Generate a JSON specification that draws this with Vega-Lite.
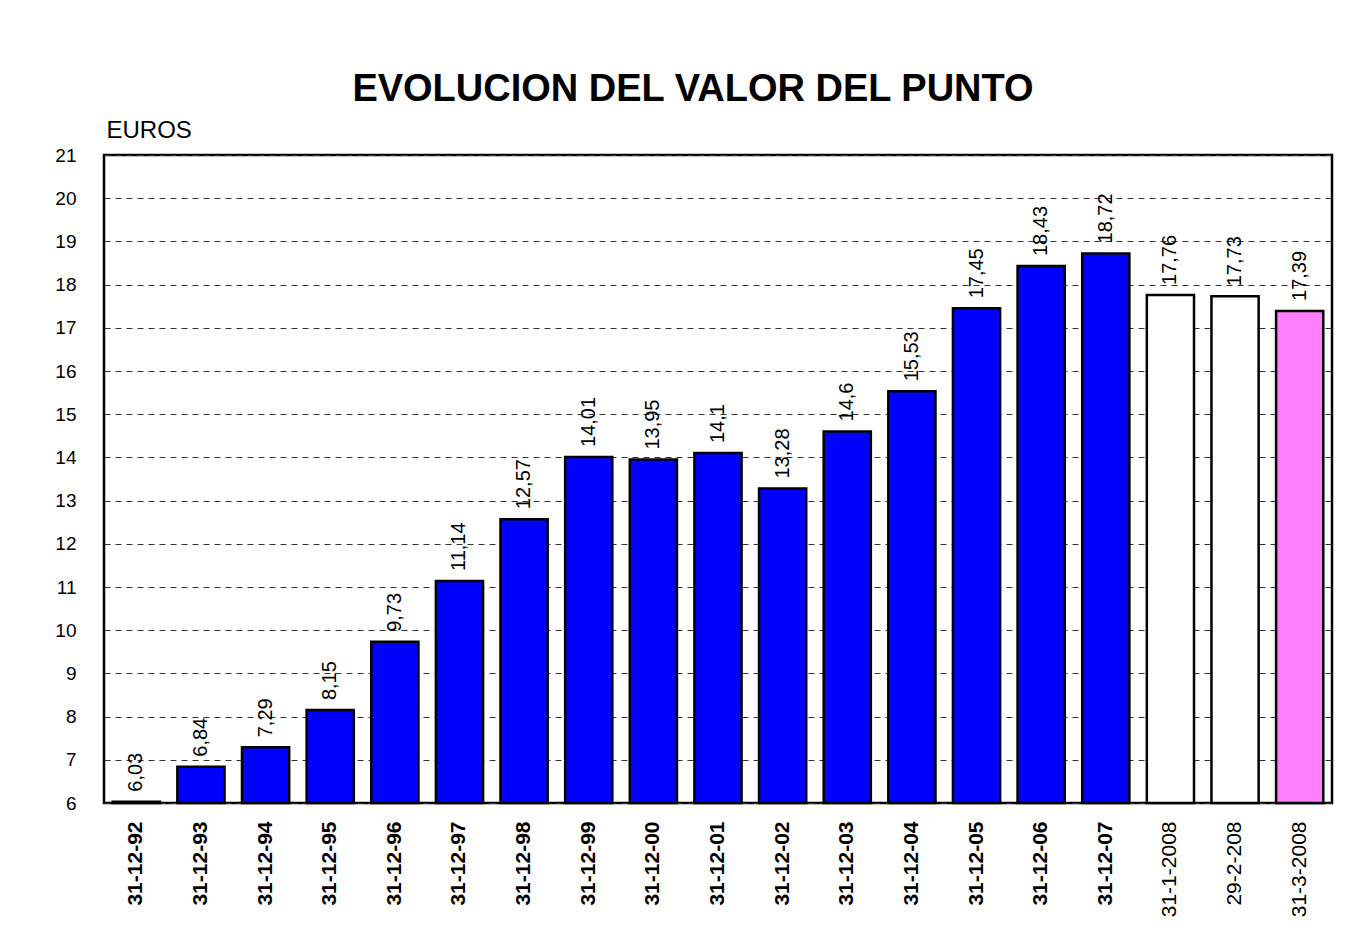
{
  "$schema": "https://vega.github.io/schema/vega-lite/v6.json",
  "width": 1228,
  "height": 648,
  "autosize": "none",
  "padding": {"left": 104, "top": 155, "right": 20, "bottom": 133},
  "background": "white",
  "title": {
    "text": "EVOLUCION DEL VALOR DEL PUNTO",
    "font": "Liberation Sans",
    "fontSize": 38,
    "fontWeight": "bold",
    "color": "black",
    "anchor": "middle",
    "dx": -25,
    "offset": -29,
    "baseline": "bottom"
  },
  "data": {
    "values": [
      {"fecha": "31-12-92", "valor": 6.03, "label": "6,03", "tipo": "año"},
      {"fecha": "31-12-93", "valor": 6.84, "label": "6,84", "tipo": "año"},
      {"fecha": "31-12-94", "valor": 7.29, "label": "7,29", "tipo": "año"},
      {"fecha": "31-12-95", "valor": 8.15, "label": "8,15", "tipo": "año"},
      {"fecha": "31-12-96", "valor": 9.73, "label": "9,73", "tipo": "año"},
      {"fecha": "31-12-97", "valor": 11.14, "label": "11,14", "tipo": "año"},
      {"fecha": "31-12-98", "valor": 12.57, "label": "12,57", "tipo": "año"},
      {"fecha": "31-12-99", "valor": 14.01, "label": "14,01", "tipo": "año"},
      {"fecha": "31-12-00", "valor": 13.95, "label": "13,95", "tipo": "año"},
      {"fecha": "31-12-01", "valor": 14.1, "label": "14,1", "tipo": "año"},
      {"fecha": "31-12-02", "valor": 13.28, "label": "13,28", "tipo": "año"},
      {"fecha": "31-12-03", "valor": 14.6, "label": "14,6", "tipo": "año"},
      {"fecha": "31-12-04", "valor": 15.53, "label": "15,53", "tipo": "año"},
      {"fecha": "31-12-05", "valor": 17.45, "label": "17,45", "tipo": "año"},
      {"fecha": "31-12-06", "valor": 18.43, "label": "18,43", "tipo": "año"},
      {"fecha": "31-12-07", "valor": 18.72, "label": "18,72", "tipo": "año"},
      {"fecha": "31-1-2008", "valor": 17.76, "label": "17,76", "tipo": "mes"},
      {"fecha": "29-2-208", "valor": 17.73, "label": "17,73", "tipo": "mes"},
      {"fecha": "31-3-2008", "valor": 17.39, "label": "17,39", "tipo": "actual"}
    ]
  },
  "encoding": {
    "x": {
      "field": "fecha",
      "type": "nominal",
      "sort": null,
      "scale": {"paddingInner": 0.27, "paddingOuter": 0.135},
      "axis": {
        "title": null,
        "labelAngle": -90,
        "labelAlign": "right",
        "labelBaseline": "middle",
        "labelFont": "Liberation Sans",
        "labelFontSize": 21,
        "labelColor": "black",
        "labelFontWeight": {"condition": {"test": "indexof(datum.value, '-12-') >= 0", "value": "bold"}, "value": "normal"},
        "labelPadding": 18,
        "ticks": false,
        "domain": false,
        "grid": false
      }
    },
    "y": {
      "field": "valor",
      "type": "quantitative",
      "scale": {"domain": [6, 21], "zero": false, "nice": false},
      "axis": {
        "title": "EUROS",
        "titleAngle": 0,
        "titleAlign": "left",
        "titleBaseline": "bottom",
        "titleX": 2,
        "titleY": -13,
        "titleFont": "Liberation Sans",
        "titleFontSize": 24,
        "titleFontWeight": "normal",
        "titleColor": "black",
        "values": [6, 7, 8, 9, 10, 11, 12, 13, 14, 15, 16, 17, 18, 19, 20, 21],
        "labelFont": "Liberation Sans",
        "labelFontSize": 19,
        "labelColor": "black",
        "labelPadding": 28,
        "ticks": false,
        "domain": false,
        "grid": true,
        "gridColor": "#333333",
        "gridDash": [6, 5],
        "gridWidth": 1
      }
    }
  },
  "layer": [
    {
      "mark": {"type": "bar", "stroke": "black", "strokeWidth": 2.5},
      "encoding": {
        "y2": {"datum": 6},
        "color": {
          "field": "tipo",
          "type": "nominal",
          "scale": {"domain": ["año", "mes", "actual"], "range": ["#0000FF", "#FFFFFF", "#FF80FF"]},
          "legend": null
        }
      }
    },
    {
      "mark": {
        "type": "text",
        "angle": 270,
        "align": "left",
        "baseline": "middle",
        "dx": 10,
        "font": "Liberation Sans",
        "fontSize": 20,
        "color": "black"
      },
      "encoding": {
        "text": {"field": "label", "type": "nominal"}
      }
    }
  ],
  "config": {
    "view": {"stroke": "black", "strokeWidth": 2.5}
  }
}
